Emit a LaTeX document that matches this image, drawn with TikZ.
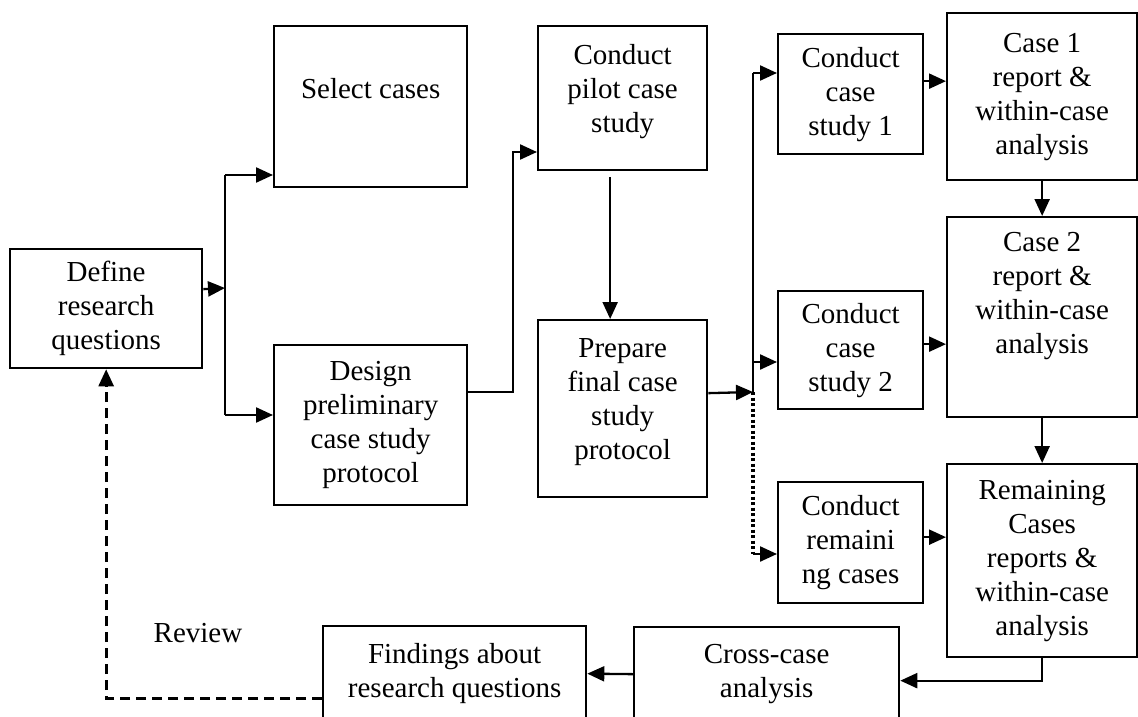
\documentclass[tikz,border=0pt]{standalone}
\usepackage{fontspec}
\setmainfont{Liberation Serif}
\usetikzlibrary{arrows.meta}

\begin{document}
\begin{tikzpicture}[x=1pt,y=-1pt,
  box/.style={draw, line width=2.3pt, inner sep=0pt, align=center, anchor=north west,
              font=\fontsize{29}{34}\selectfont},
  plain/.style={inner sep=0pt, font=\fontsize{29}{34}\selectfont},
  conn/.style={line width=2.3pt},
  arr/.style={conn, -{Triangle[length=17pt,width=15pt]}},
  dotline/.style={line width=3.5pt, dash pattern=on 3pt off 2.5pt},
  dasharr/.style={line width=2.7pt, dash pattern=on 10pt off 6pt, -{Triangle[length=17pt,width=15pt]}}
]
\useasboundingbox (0,0) rectangle (1138,717);
\clip (0,0) rectangle (1138,717);
\fill[white] (0,0) rectangle (1138,717);

% process steps
\node[box, minimum width=192pt, minimum height=119pt] (define) at (9,248) {Define\\research\\questions};
\node[box, minimum width=193pt, minimum height=161pt] (select) at (273,25) {Select cases\\[3pt]\mbox{}};
\node[box, minimum width=193pt, minimum height=160pt] (design) at (273,344) {Design\\preliminary\\case study\\protocol};
\node[box, minimum width=169pt, minimum height=144pt] (pilot) at (537,25) {Conduct\\pilot case\\study\\[-14pt]\mbox{}};
\node[box, minimum width=169pt, minimum height=177pt] (prepare) at (537,319) {Prepare\\final case\\study\\protocol\\[-14pt]\mbox{}};
\node[box, minimum width=145pt, minimum height=120pt] (csone) at (777,33) {Conduct\\case\\study 1};
\node[box, minimum width=190pt, minimum height=167pt] (caseone) at (946,12) {Case 1\\report \&\\within-case\\analysis};
\node[box, minimum width=145pt, minimum height=118pt] (cstwo) at (777,290) {Conduct\\case\\study 2};
\node[box, minimum width=190pt, minimum height=200pt] (casetwo) at (946,216) {Case 2\\report \&\\within-case\\analysis\\[14pt]\mbox{}};
\node[box, minimum width=145pt, minimum height=121pt] (csrest) at (777,481) {Conduct\\remaini\\ng cases};
\node[box, minimum width=190pt, minimum height=193pt] (remaining) at (946,463) {Remaining\\Cases\\reports \&\\within-case\\analysis};
\node[box, minimum width=265pt, minimum height=94pt] (cross) at (633,626) {Cross-case\\analysis};
\node[box, minimum width=263pt, minimum height=95pt] (findings) at (322,625) {Findings about\\research questions};
\node[plain] (review) at (198,633) {Review};

% branch points
\coordinate (jtop) at (225,175);
\coordinate (jmid) at (225,288);
\coordinate (jbot) at (225,415);
\coordinate (kbend) at (513,152);
\coordinate (hub) at (753,392);
\coordinate (hubtop) at (753,73);
\coordinate (hubmid) at (753,362);
\coordinate (hubbot) at (753,554);

% define -> select / design
\draw[arr] ([yshift=19.5pt]define.east) -- (jmid);
\draw[conn] (jtop) -- (jbot);
\draw[arr] (jtop) -- (jtop -| select.west);
\draw[arr] (jbot) -- (jbot -| design.west);

% design -> pilot -> prepare
\draw[arr] ([yshift=33pt]design.east) -| (kbend) -- (kbend -| pilot.west);
\draw[arr] ([xshift=-12.5pt,yshift=-6pt]pilot.south) -- ([xshift=-12.5pt]prepare.north);

% prepare -> individual case studies
\draw[arr] ([yshift=15.5pt]prepare.east) -- (hub);
\draw[conn] (hub) -- (hubtop);
\draw[arr] (hubtop) -- (hubtop -| csone.west);
\draw[arr] (hubmid) -- (hubmid -| cstwo.west);
\draw[dotline] (hub) -- (hubbot);
\draw[arr] (hubbot) -- (hubbot -| csrest.west);

% case studies -> reports
\draw[arr] ([yshift=13pt]csone.east) -- ([yshift=13pt]csone.east -| caseone.west);
\draw[arr] ([yshift=6pt]cstwo.east) -- ([yshift=6pt]cstwo.east -| casetwo.west);
\draw[arr] ([yshift=5.5pt]csrest.east) -- ([yshift=5.5pt]csrest.east -| remaining.west);
\draw[arr] (caseone.south) -- (casetwo.north);
\draw[arr] (casetwo.south) -- (remaining.north);

% reports -> cross-case analysis -> findings
\draw[arr] (remaining.south) |- ([yshift=-6.5pt]cross.east);
\draw[arr] (cross.west) -- (findings.east);

% review loop
\draw[dasharr] ([yshift=-24.5pt]findings.west) -| (define.south);
\end{tikzpicture}
\end{document}
